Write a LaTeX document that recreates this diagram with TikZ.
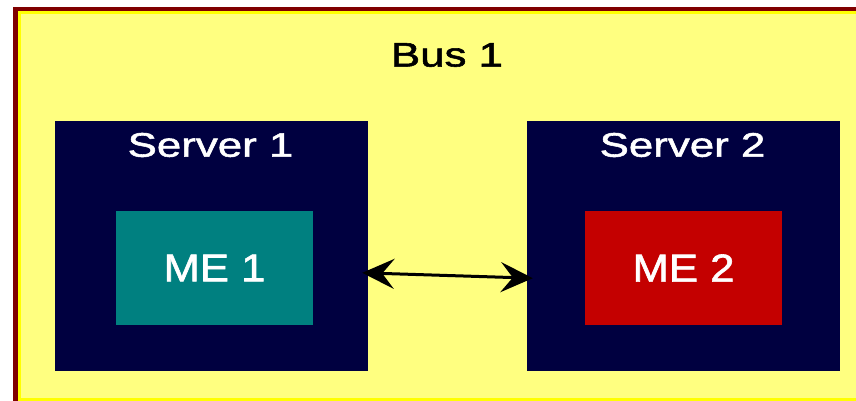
\documentclass[tikz,border=0pt]{standalone}
\usepackage{fontspec}
\setmainfont{Liberation Sans}[FakeStretch=1.29,FakeBold=1.6]
\newfontfamily\mefont{Liberation Sans}[FakeStretch=1.12,FakeBold=1.6]
\usetikzlibrary{arrows.meta}
\definecolor{busred}{RGB}{128,0,0}
\definecolor{busyel}{RGB}{255,255,0}
\definecolor{buslight}{RGB}{255,255,128}
\definecolor{srvnavy}{RGB}{0,0,64}
\definecolor{meteal}{RGB}{0,128,128}
\definecolor{mered}{RGB}{196,0,0}
\newcommand\bigtxt{\fontsize{34}{38}\selectfont}
\newcommand\metxt{\mefont\fontsize{39}{42}\selectfont}

\begin{document}
\begin{tikzpicture}[x=1pt,y=-1pt,every node/.style={font=\bigtxt,text=white,inner sep=0},
	srvbox/.style={fill=srvnavy,minimum width=313pt,minimum height=250pt},
	mebox/.style={font=\metxt,minimum width=197pt,minimum height=114pt},
	link/.style={{Stealth[length=32pt,width=30pt,inset=12pt]}-{Stealth[length=32pt,width=30pt,inset=12pt]},
		line width=3pt,shorten <=-6pt,shorten >=-6pt}]
\useasboundingbox (0,0) rectangle (856,401);
\clip (0,0) rectangle (856,401);
\draw[busred,line width=5pt,fill=buslight] (15.5,9.5) rectangle (880,404);
\draw[busyel,line width=3pt] (19.5,13) rectangle (870,399.5);
\node[text=black] (bus) at (447,55) {Bus 1};

\foreach \i/\x in {1/211.5,2/683.5}{
	\node[srvbox] (srv\i) at (\x,246) {};
	\node (lbl\i) at (\x-1,145) {Server \i};
}
\node[mebox,fill=meteal] (me1) at (214.5,268) {ME 1};
\node[mebox,fill=mered] (me2) at (683.5,268) {ME 2};
\draw[link] ([yshift=-27pt]srv1.east) -- ([yshift=-32pt]srv2.west);
\end{tikzpicture}
\end{document}
